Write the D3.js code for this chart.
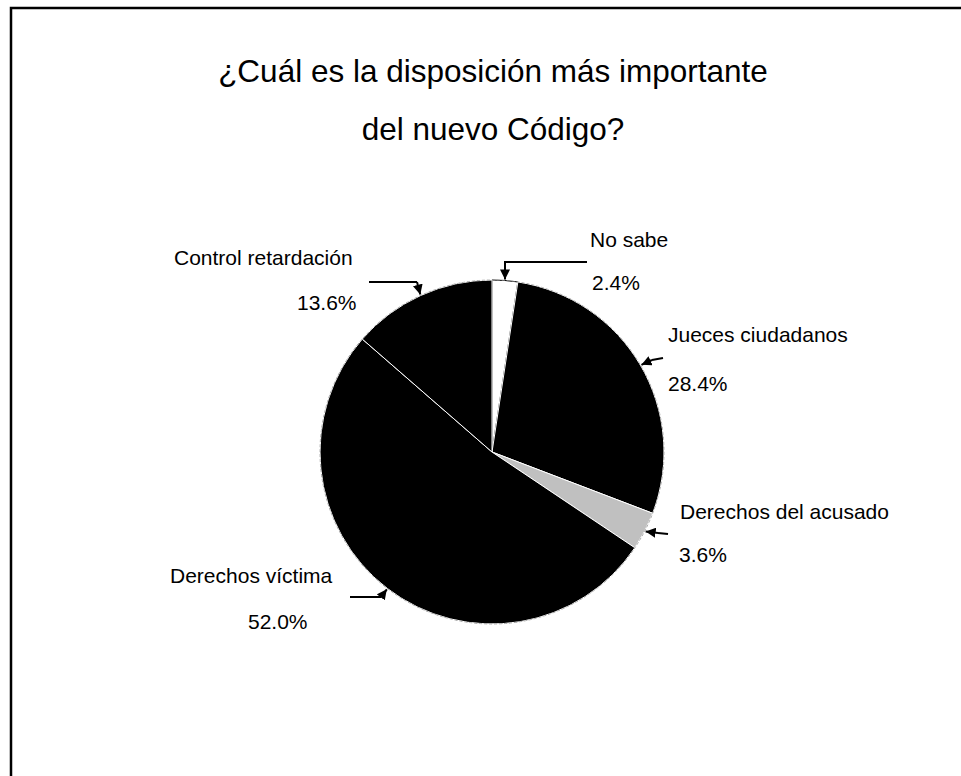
<!DOCTYPE html>
<html><head><meta charset="utf-8">
<script src="https://cdn.jsdelivr.net/npm/d3@7"></script>
<style>body{margin:0;background:#fff}svg{display:block}text{font-family:"Liberation Sans",Arial,sans-serif;fill:#000}</style>
</head><body>
<script>
const categories = ["No sabe","Jueces ciudadanos","Derechos del acusado","Derechos víctima","Control retardación"];
const values = [2.4, 28.4, 3.6, 52.0, 13.6];
const valueLabels = ["2.4%","28.4%","3.6%","52.0%","13.6%"];
const titleLines = ["¿Cuál es la disposición más importante","del nuevo Código?"];

const fills = ["#ffffff","#000000","#c0c0c0","#000000","#000000"];
const strokes = ["#000000","#ffffff","#ffffff","#ffffff","#ffffff"];
// label layout (positions only)
const layout = [
  {nx:590, ny:247, vx:592, vy:290, pts:[[587,262],[505,262],[505,270]]},
  {nx:668, ny:342, vx:668, vy:391, pts:[[663,358],[652,360]]},
  {nx:680, ny:519, vx:679, vy:562, pts:[[668,534],[658,533]]},
  {nx:170, ny:583, vx:248, vy:629, pts:[[350,597],[381,597]]},
  {nx:174, ny:265, vx:297, vy:310, pts:[[369,282],[417,282]]}
];

const W=961,H=776, cx=492, cy=452, R=172;
const svg=d3.select("body").append("svg").attr("width",W).attr("height",H);
svg.append("defs").append("marker").attr("id","ah").attr("viewBox","0 0 10 10")
  .attr("refX",10).attr("refY",5).attr("markerWidth",10).attr("markerHeight",10)
  .attr("markerUnits","userSpaceOnUse").attr("orient","auto")
  .append("path").attr("d","M0,0L10,5L0,10z").attr("fill","#000");

svg.append("rect").attr("x",11).attr("y",8).attr("width",W+20).attr("height",H+20)
  .attr("fill","none").attr("stroke","#000").attr("stroke-width",2.5);

svg.selectAll("text.title").data(titleLines).join("text").attr("class","title")
  .attr("x",493).attr("y",(d,i)=>82+i*58).attr("text-anchor","middle")
  .style("font-size","31.5px").text(d=>d);

const pie=d3.pie().sort(null).value(d=>d);
const arcs=pie(values);
const arc=d3.arc().innerRadius(0).outerRadius(R);
const g=svg.append("g").attr("transform",`translate(${cx},${cy})`);
g.selectAll("path").data(arcs).join("path").attr("d",arc)
  .attr("fill",(d,i)=>fills[i]).attr("stroke",(d,i)=>strokes[i]).attr("stroke-width",1);
g.append("circle").attr("r",R).attr("fill","none").attr("stroke","#999").attr("stroke-width",0.8).attr("stroke-dasharray","3,2");

arcs.forEach((a,i)=>{
  const m=(a.startAngle+a.endAngle)/2;
  const tip=[cx+(R+1)*Math.sin(m), cy-(R+1)*Math.cos(m)];
  const pts=layout[i].pts.concat([tip]);
  const line=d3.line();
  const main=pts.slice(0,-1);
  if(main.length>1) svg.append("path").attr("d",line(main)).attr("fill","none").attr("stroke","#000").attr("stroke-width",2);
  svg.append("path").attr("d",line(pts.slice(-2))).attr("fill","none").attr("stroke","#000")
    .attr("stroke-width",2).attr("marker-end","url(#ah)");
  svg.append("text").attr("x",layout[i].nx).attr("y",layout[i].ny).style("font-size","21px").text(categories[i]);
  svg.append("text").attr("x",layout[i].vx).attr("y",layout[i].vy).style("font-size","21px").text(valueLabels[i]);
});
</script>
</body></html>
